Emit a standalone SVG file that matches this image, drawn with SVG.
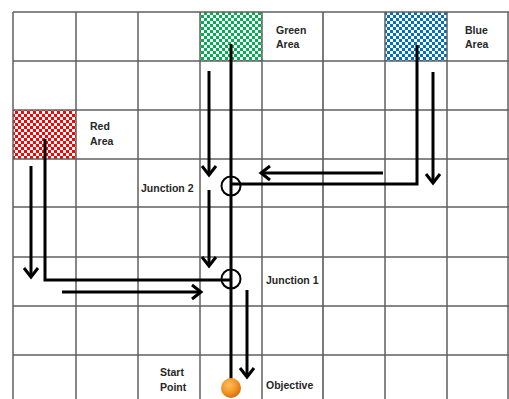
<svg xmlns="http://www.w3.org/2000/svg" width="509" height="399" viewBox="0 0 509 399">
<defs>
<pattern id="pg" width="6" height="6" patternUnits="userSpaceOnUse"><rect width="6" height="6" fill="#fff"/><rect width="3" height="3" fill="#00b050"/><rect x="3" y="3" width="3" height="3" fill="#00b050"/></pattern>
<pattern id="pb" width="6" height="6" patternUnits="userSpaceOnUse"><rect width="6" height="6" fill="#fff"/><rect width="3" height="3" fill="#0070c0"/><rect x="3" y="3" width="3" height="3" fill="#0070c0"/></pattern>
<pattern id="pr" width="6" height="6" patternUnits="userSpaceOnUse"><rect width="6" height="6" fill="#fff"/><rect width="3" height="3" fill="#ff0000"/><rect x="3" y="3" width="3" height="3" fill="#ff0000"/></pattern>
<radialGradient id="ball" cx="0.4" cy="0.35" r="0.7"><stop offset="0" stop-color="#ffc060"/><stop offset="0.6" stop-color="#f39020"/><stop offset="1" stop-color="#c86a10"/></radialGradient>
<marker id="ah" markerUnits="userSpaceOnUse" viewBox="-12 -9 14 18" markerWidth="14" markerHeight="18" refX="0" refY="0" orient="auto" overflow="visible"><path d="M-9,-7 L0,0 L-9,7" fill="none" stroke="#000" stroke-width="3"/></marker>
</defs>
<style>
.g{stroke:#606060;stroke-width:1.5;fill:none}
.ln{stroke:#000;stroke-width:3;fill:none}
.ar{stroke:#000;stroke-width:3;fill:none;marker-end:url(#ah)}
.t{font-family:"Liberation Sans",Arial,sans-serif;font-size:10.5px;font-weight:bold;fill:#262626}
</style>
<rect width="509" height="399" fill="#fff"/>
<g id="areas">
<rect x="200" y="12" width="62" height="49" fill="url(#pg)"/>
<rect x="385" y="12" width="62" height="49" fill="url(#pb)"/>
<rect x="13" y="110" width="63" height="49" fill="url(#pr)"/>
</g>
<g id="grid">
<path class="g" d="M13,12V399M76,12V399M138,12V399M200,12V399M262,12V399M385,12V399M447,12V399M508,12V399"/>
<path d="M323,12V399" stroke="#222" stroke-width="1.2"/>
<path class="g" d="M13,12H509M13,61H509M13,110H509M13,159H509M13,207H509M13,257H509M13,306H509M13,355H509"/>
</g>
<g id="connectors">
<path class="ln" d="M231,44V386"/>
<path class="ln" d="M417,45V184H231"/>
<path class="ln" d="M45,139V280H231"/>
<path class="ar" d="M209,71V175"/>
<path class="ar" d="M209,190V266"/>
<path class="ar" d="M433,72V183"/>
<path class="ar" d="M383,173H261"/>
<path class="ar" d="M31,166V277"/>
<path class="ar" d="M62,292H201"/>
<path class="ar" d="M247,290V377"/>
</g>
<g id="junction2"><circle cx="231" cy="186" r="9.5" fill="none" stroke="#000" stroke-width="2"/><text class="t" x="141" y="192">Junction 2</text></g>
<g id="junction1"><circle cx="231" cy="279" r="9.5" fill="none" stroke="#000" stroke-width="2"/><text class="t" x="266" y="284">Junction 1</text></g>
<g id="start"><circle cx="231" cy="388" r="10" fill="url(#ball)"/><text class="t" x="160" y="376">Start</text><text class="t" x="160" y="391">Point</text></g>
<g id="objective"><text class="t" x="266" y="389">Objective</text></g>
<g id="green"><text class="t" x="276" y="34">Green</text><text class="t" x="276" y="48">Area</text></g>
<g id="blue"><text class="t" x="465" y="34">Blue</text><text class="t" x="465" y="48">Area</text></g>
<g id="red"><text class="t" x="90" y="130">Red</text><text class="t" x="90" y="145">Area</text></g>
</svg>
